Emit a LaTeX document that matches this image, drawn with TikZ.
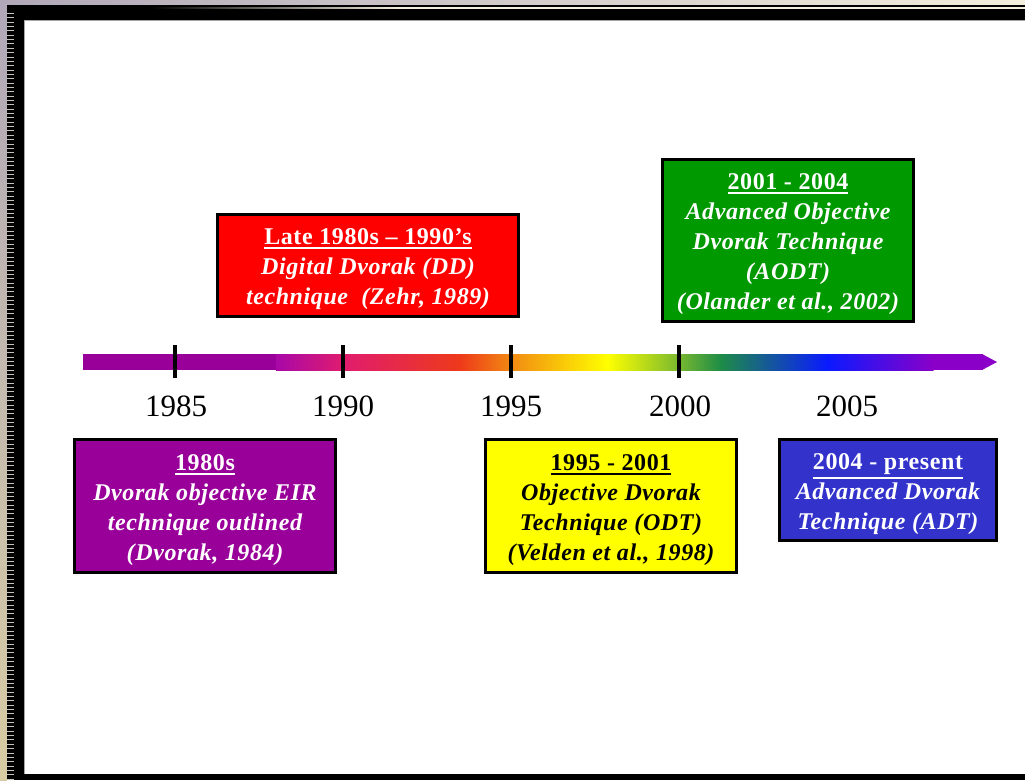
\documentclass[tikz,border=0pt]{standalone}
\usepackage{fontspec}
\setmainfont{Liberation Serif}
\newfontfamily\boxfont[LetterSpace=2.5]{Liberation Serif}
\newcommand\headul[1]{\leavevmode\vtop{\hbox{\upshape #1}\kern2.2pt\hrule height 1.7pt}}
\definecolor{cpurple}{HTML}{990099}
\definecolor{cred}{HTML}{FF0000}
\definecolor{cyellow}{HTML}{FFFF00}
\definecolor{cgreen}{HTML}{009900}
\definecolor{cblue}{HTML}{3333CC}
\definecolor{g1}{HTML}{A808A8}
\definecolor{g2}{HTML}{E01C6E}
\definecolor{g3}{HTML}{EE3A1A}
\definecolor{g4}{HTML}{F28A12}
\definecolor{g5}{HTML}{FFFF00}
\definecolor{g6}{HTML}{78B830}
\definecolor{g7}{HTML}{1E8C46}
\definecolor{g8}{HTML}{0A1AFF}
\definecolor{g9}{HTML}{8A00C8}
\definecolor{bgA}{HTML}{B0A8B8}
\definecolor{bgB}{HTML}{D8CCA4}
\definecolor{bgC}{HTML}{F4EEDC}
\definecolor{stripe}{HTML}{C8C2BC}
\tikzset{
  tlbox/.style={draw=black, line width=3pt, inner sep=0pt},
  tltext/.style={inner sep=0pt, align=center, yshift=-4.5pt,
    font=\boxfont\fontsize{24}{30}\selectfont\bfseries},
  year/.style={font=\fontsize{31}{34}\selectfont, inner sep=0pt},
  tick/.style={line width=4pt, black},
}
\begin{document}
\begin{tikzpicture}[x=1pt,y=-1pt]
\useasboundingbox (0,0) rectangle (1025,780);
% slide background
\shade[top color=bgA, bottom color=bgB] (0,0) rectangle (7,780);
\shade[left color=bgA, right color=bgC] (0,0) rectangle (1025,5);
% black frame
\fill[black] (7,5) rectangle (1025,780);
\foreach \k in {0,...,176} {
  \fill[stripe] (7,{13+4.35*\k}) rectangle (14,{13.9+4.35*\k});
}
\shade[left color=black, right color=bgC] (150,7.2) rectangle (400,8.6);
\fill[bgC] (399.5,7.2) rectangle (1025,8.6);
% white page
\fill[white] (24.5,20.5) rectangle (1025,774);
\draw[gray!70, line width=0.8pt] (24.5,774) -- (24.5,20.5) -- (1025,20.5);
% timeline arrow
\fill[cpurple] (83,354) rectangle (276.5,370);
\shade[left color=g1, right color=g2] (276,354) rectangle (343.5,370);
\shade[left color=g2, right color=g3] (343,354) rectangle (460.5,370);
\shade[left color=g3, right color=g4] (460,354) rectangle (511.5,370);
\shade[left color=g4, right color=g5] (511,354) rectangle (607.5,370);
\shade[left color=g5, right color=g6] (607,354) rectangle (679.5,370);
\shade[left color=g6, right color=g7] (679,354) rectangle (720.5,370);
\shade[left color=g7, right color=g8] (720,354) rectangle (827.5,370);
\shade[left color=g8, right color=g9] (827,354) rectangle (933.5,370);
\fill[g9] (933,354) rectangle (982.5,370);
\fill[g9] (982,354) -- (997,362) -- (982,370) -- cycle;
% ticks
\foreach \x in {175,343,511,679} { \draw[tick] (\x,345) -- (\x,378); }
% year labels
\node[year] (y1985) at (176,406) {1985};
\node[year] (y1990) at (343,406) {1990};
\node[year] (y1995) at (511,406) {1995};
\node[year] (y2000) at (680,406) {2000};
\node[year] (y2005) at (847,406) {2005};
% boxes
\node[tlbox, fill=cpurple, minimum width=261, minimum height=133] (b1980) at (205,506) {};
\node[tltext, text=white] (t1980) at (b1980.center)
  {\headul{1980s}\\ \itshape Dvorak objective EIR\\ \itshape technique outlined\\ \itshape (Dvorak, 1984)};
\node[tlbox, fill=cred, minimum width=301, minimum height=102] (bdd) at (368,265) {};
\node[tltext, text=white] (tdd) at (bdd.center)
  {\headul{Late 1980s – 1990’s}\\ \itshape Digital Dvorak (DD)\\ \itshape technique\ \ (Zehr, 1989)};
\node[tlbox, fill=cyellow, minimum width=251, minimum height=133] (bodt) at (611,506) {};
\node[tltext, text=black] (todt) at (bodt.center)
  {\headul{1995 - 2001}\\ \itshape Objective Dvorak\\ \itshape Technique (ODT)\\ \itshape (Velden et al., 1998)};
\node[tlbox, fill=cgreen, minimum width=251, minimum height=162] (baodt) at (788,240) {};
\node[tltext, text=white] (taodt) at (baodt.center)
  {\headul{2001 - 2004}\\ \itshape Advanced Objective\\ \itshape Dvorak Technique\\ \itshape (AODT)\\ \itshape (Olander et al., 2002)};
\node[tlbox, fill=cblue, minimum width=217, minimum height=101] (badt) at (888,490) {};
\node[tltext, text=white] (tadt) at (badt.center)
  {\headul{2004 - present}\\ \itshape Advanced Dvorak\\ \itshape Technique (ADT)};
\end{tikzpicture}
\end{document}
